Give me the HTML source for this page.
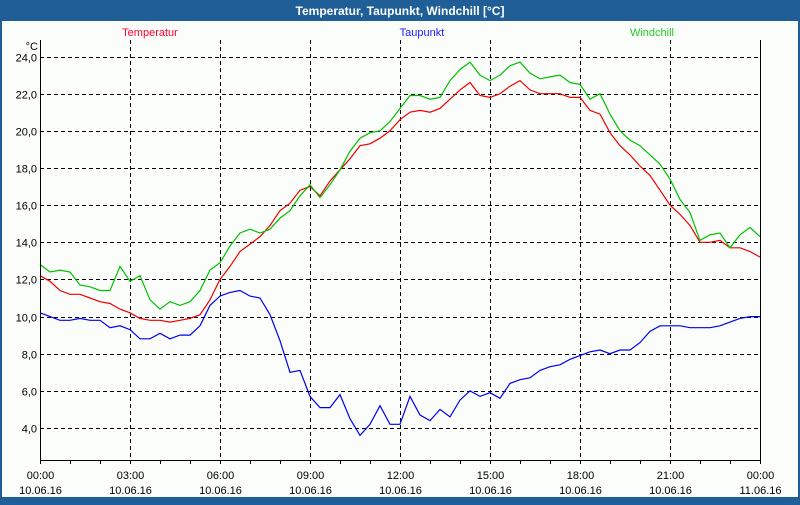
<!DOCTYPE html>
<html><head><meta charset="utf-8"><style>
html,body{margin:0;padding:0;}
body{width:800px;height:500px;overflow:hidden;background:#1f5e96;font-family:"Liberation Sans",sans-serif;}
#win{position:absolute;left:0;top:0;width:800px;height:500px;}
</style></head><body>
<div id="win">
<svg id="chart" width="800" height="500" xmlns="http://www.w3.org/2000/svg">
<rect x="0" y="0" width="800" height="500" fill="#1f5e96"/>
<rect x="2" y="21" width="796" height="476" fill="#fbfdfb"/>
<text x="400" y="15" text-anchor="middle" font-size="12" font-weight="bold" fill="#ffffff">Temperatur, Taupunkt, Windchill [°C]</text>
<text x="150" y="36" text-anchor="middle" font-size="11" fill="#ff0033">Temperatur</text>
<text x="422" y="36" text-anchor="middle" font-size="11" fill="#1a1aff">Taupunkt</text>
<text x="652" y="36" text-anchor="middle" font-size="11" fill="#22cc22">Windchill</text>
<text x="38" y="50" text-anchor="end" font-size="11" fill="#000">°C</text>
<g id="grid"></g><g id="series"></g><g id="axes"></g>
</svg>
</div>
<script>
const yTicks=[4,6,8,10,12,14,16,18,20,22,24];
const xTickHours=[0,3,6,9,12,15,18,21,24];
const xTickLabels=["00:00","03:00","06:00","09:00","12:00","15:00","18:00","21:00","00:00"];
const xTickDates=["10.06.16","10.06.16","10.06.16","10.06.16","10.06.16","10.06.16","10.06.16","10.06.16","11.06.16"];
const stepMinutes=20;
const temperatur=[12.2,11.9,11.4,11.2,11.2,11.0,10.8,10.7,10.4,10.2,9.9,9.8,9.8,9.7,9.8,9.9,10.1,10.9,12.0,12.7,13.5,13.9,14.3,14.9,15.7,16.1,16.8,17.0,16.5,17.3,17.9,18.5,19.2,19.3,19.6,20.0,20.6,21.0,21.1,21.0,21.2,21.7,22.2,22.6,21.9,21.8,22.0,22.4,22.7,22.2,22.0,22.0,22.0,21.8,21.8,21.1,20.9,19.9,19.2,18.7,18.1,17.6,16.8,16.0,15.5,14.9,14.0,14.0,14.1,13.7,13.7,13.5,13.2];
const taupunkt=[10.2,10.0,9.8,9.8,9.9,9.8,9.8,9.4,9.5,9.3,8.8,8.8,9.1,8.8,9.0,9.0,9.5,10.6,11.1,11.3,11.4,11.1,11.0,10.1,8.7,7.0,7.1,5.7,5.1,5.1,5.8,4.5,3.6,4.2,5.2,4.2,4.2,5.7,4.7,4.4,5.0,4.6,5.5,6.0,5.7,5.9,5.6,6.4,6.6,6.7,7.1,7.3,7.4,7.7,7.9,8.1,8.2,8.0,8.2,8.2,8.6,9.2,9.5,9.5,9.5,9.4,9.4,9.4,9.5,9.7,9.9,10.0,10.0];
const windchill=[12.8,12.4,12.5,12.4,11.7,11.6,11.4,11.4,12.7,11.9,12.2,10.9,10.4,10.8,10.6,10.8,11.4,12.5,12.9,13.8,14.5,14.7,14.5,14.7,15.3,15.7,16.5,17.1,16.4,17.1,17.9,18.9,19.6,19.9,20.0,20.5,21.2,21.9,21.9,21.7,21.8,22.7,23.3,23.7,23.0,22.7,23.0,23.5,23.7,23.1,22.8,22.9,23.0,22.6,22.5,21.7,22.0,20.9,20.0,19.5,19.2,18.7,18.2,17.4,16.3,15.6,14.1,14.4,14.5,13.7,14.4,14.8,14.3];

const L=40,R=760,T=40,B=460;
const xScale=h=>L+(R-L)*h/24;
const yScale=v=>56.5+(24-v)*18.575;
const NS="http://www.w3.org/2000/svg";
function mk(tag,attrs,parent){const e=document.createElementNS(NS,tag);for(const k in attrs)e.setAttribute(k,attrs[k]);parent.appendChild(e);return e;}
const grid=document.getElementById('grid'),axes=document.getElementById('axes'),series=document.getElementById('series');
yTicks.forEach(v=>{
  const y=Math.round(yScale(v))+0.5;
  const g=mk('line',{x1:L,x2:R,y1:y,y2:y,stroke:'#000','stroke-dasharray':'4,3','stroke-width':1},grid);
  
  
  const t=mk('text',{x:37,y:y+4,'text-anchor':'end','font-size':11,fill:'#000'},axes);
  t.textContent=v.toFixed(1).replace('.',',');
  
  
});
xTickHours.forEach((h,i)=>{
  const x=Math.round(xScale(h))+0.5;
  if(i>0&&i<xTickHours.length-1){
    const g=mk('line',{x1:x,x2:x,y1:T,y2:B,stroke:'#000','stroke-dasharray':'4,3','stroke-width':1},grid);
    
    
  }
  const t1=mk('text',{x:x,y:479,'text-anchor':'middle','font-size':11,fill:'#000'},axes);
  t1.textContent=xTickLabels[i];
  
  
  const t2=mk('text',{x:x,y:494,'text-anchor':'middle','font-size':11,fill:'#000'},axes);
  t2.textContent=xTickDates[i];
  
  
});
for(let h=0;h<=24;h++){
  const x=Math.round(xScale(h))+0.5;
  const tk=mk('line',{x1:x,x2:x,y1:B,y2:B+4,stroke:'#000'},axes);
  
  
}
const ax=mk('path',{d:`M${L+0.5},${T}V${B+0.5}H${R+0.5}V${T}`,fill:'none',stroke:'#000','stroke-width':1},axes);


function line(arr,color,name){
  const d=arr.map((v,i)=>(i?'L':'M')+xScale(i*stepMinutes/60).toFixed(1)+','+yScale(v).toFixed(1)).join('');
  const p=mk('path',{d:d,fill:'none',stroke:color,'stroke-width':1.2},series);
  
  
}
line(taupunkt,'#0000ee','taupunkt-line');
line(temperatur,'#ee0000','temperatur-line');
line(windchill,'#00c000','windchill-line');
</script>
</body></html>
